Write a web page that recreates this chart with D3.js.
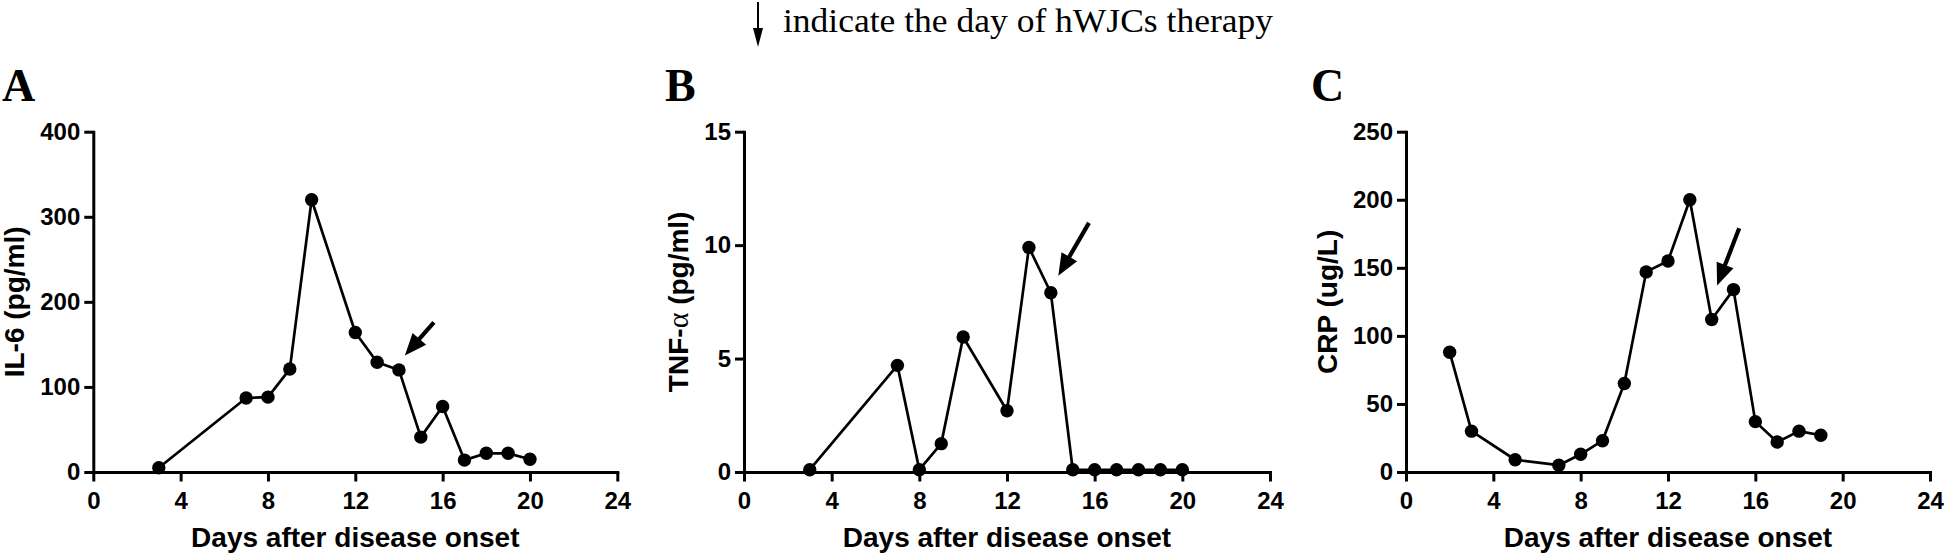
<!DOCTYPE html>
<html><head><meta charset="utf-8">
<script src="https://cdn.jsdelivr.net/npm/d3@7"></script>
<style>body{margin:0;background:#fff} svg{display:block}</style>
</head><body>
<svg id="c" width="1946" height="554"></svg>
<script>
// ---- data ----
const xTicks = [0, 4, 8, 12, 16, 20, 24];

const il6Days   = [3, 7, 8, 9, 10, 12, 13, 14, 15, 16, 17, 18, 19, 20];
const il6Values = [5, 87, 88, 121, 320, 164, 129, 120, 41, 77, 14, 22, 22, 15];
const il6Ticks  = [0, 100, 200, 300, 400];

const tnfDays   = [3, 7, 8, 9, 10, 12, 13, 14, 15, 16, 17, 18, 19, 20];
const tnfValues = [0.1, 4.7, 0.1, 1.25, 5.95, 2.7, 9.9, 7.9, 0.1, 0.1, 0.1, 0.1, 0.1, 0.1];
const tnfTicks  = [0, 5, 10, 15];

const crpDays   = [2, 3, 5, 7, 8, 9, 10, 11, 12, 13, 14, 15, 16, 17, 18, 19];
const crpValues = [88, 30, 9, 5, 13, 23, 65, 147, 155, 200, 112, 134, 37, 22, 30, 27];
const crpTicks  = [0, 50, 100, 150, 200, 250];

// therapy-day arrows (data coords: tail -> tip)
const arrowA = [[15.6, 176], [14.27, 137]];
const arrowB = [[15.74, 10.98], [14.34, 8.65]];
const arrowC = [[15.26, 179], [14.25, 137]];

const headerText = "indicate the day of hWJCs therapy";
const xTitle = "Days after disease onset";

// ---- layout ----
const svg = d3.select("#c");
const plotTop = 131.7, plotBottom = 472;
const sans = "'Liberation Sans', Arial, sans-serif";
const serif = "'Liberation Serif', 'Times New Roman', serif";

const panels = [
  {label: "A", labelX: 2, left: 93.3, right: 617.3, days: il6Days, values: il6Values,
   yMax: 400, yTicks: il6Ticks, title: [["IL-6 (pg/ml)", sans, "bold"]], titleOff: 69, arrow: arrowA},
  {label: "B", labelX: 665, left: 744, right: 1270, days: tnfDays, values: tnfValues,
   yMax: 15, yTicks: tnfTicks, title: [["TNF-", sans, "bold"], ["\u03b1", serif, "normal"], [" (pg/ml)", sans, "bold"]], titleOff: 56, arrow: arrowB},
  {label: "C", labelX: 1311, left: 1406, right: 1930, days: crpDays, values: crpValues,
   yMax: 250, yTicks: crpTicks, title: [["CRP (ug/L)", sans, "bold"]], titleOff: 69, arrow: arrowC}
];

panels.forEach(p => {
  const x = d3.scaleLinear().domain([0, 24]).range([p.left, p.right]);
  const y = d3.scaleLinear().domain([0, p.yMax]).range([plotBottom, plotTop]);
  const g = svg.append("g");

  // axes
  const xa = g.append("g").attr("transform", `translate(0,${plotBottom})`)
    .call(d3.axisBottom(x).tickValues(xTicks).tickSize(9.5).tickSizeOuter(0).tickPadding(10).tickFormat(d3.format("d")));
  const ya = g.append("g").attr("transform", `translate(${p.left},0)`)
    .call(d3.axisLeft(y).tickValues(p.yTicks).tickSize(9).tickSizeOuter(0).tickPadding(4).tickFormat(d3.format("d")));
  [xa, ya].forEach(a => {
    a.select(".domain").attr("stroke", "#000").attr("stroke-width", 3).attr("stroke-linecap", "square");
    a.selectAll(".tick line").attr("stroke", "#000").attr("stroke-width", 3);
    a.selectAll(".tick text").attr("fill", "#000").style("font-family", sans)
      .style("font-weight", "bold").style("font-size", "24px");
  });

  // x title
  g.append("text").attr("x", (p.left + p.right) / 2).attr("y", 546.5)
    .attr("text-anchor", "middle").style("font-family", sans).style("font-weight", "bold")
    .style("font-size", "28px").attr("fill", "#000").text(xTitle);

  // y title
  const yt = g.append("text")
    .attr("transform", `translate(${p.left - p.titleOff},${(plotTop + plotBottom) / 2}) rotate(-90)`)
    .attr("text-anchor", "middle").style("font-size", "28px").attr("fill", "#000");
  p.title.forEach(([t, f, w]) => yt.append("tspan").style("font-family", f).style("font-weight", w)
    .style("font-size", f === serif ? "30px" : "28px").text(t));

  // panel label
  g.append("text").attr("x", p.labelX).attr("y", 101).style("font-family", serif)
    .style("font-weight", "bold").style("font-size", "46px").attr("fill", "#000").text(p.label);

  // data line + markers
  const pts = p.days.map((d, i) => [d, p.values[i]]);
  g.append("path").datum(pts)
    .attr("d", d3.line().x(d => x(d[0])).y(d => y(d[1])))
    .attr("fill", "none").attr("stroke", "#000").attr("stroke-width", 2.7).attr("stroke-linejoin", "round");
  g.selectAll("circle.pt").data(pts).join("circle").attr("class", "pt")
    .attr("cx", d => x(d[0])).attr("cy", d => y(d[1])).attr("r", 6.7).attr("fill", "#000");

  // therapy arrow
  const [t0, t1] = p.arrow;
  const x0 = x(t0[0]), y0 = y(t0[1]), x1 = x(t1[0]), y1 = y(t1[1]);
  const dx = x1 - x0, dy = y1 - y0, L = Math.hypot(dx, dy), ux = dx / L, uy = dy / L;
  const hl = 22, hw = 9;
  const bx = x1 - ux * hl, by = y1 - uy * hl;
  g.append("line").attr("x1", x0).attr("y1", y0).attr("x2", bx + ux * 2).attr("y2", by + uy * 2)
    .attr("stroke", "#000").attr("stroke-width", 4.2);
  g.append("path").attr("d", `M${x1},${y1}L${bx - uy * hw},${by + ux * hw}L${bx + uy * hw},${by - ux * hw}Z`)
    .attr("fill", "#000");
});

// header annotation
svg.append("line").attr("x1", 758).attr("y1", 2).attr("x2", 758).attr("y2", 32)
  .attr("stroke", "#000").attr("stroke-width", 2);
svg.append("path").attr("d", "M758,47L753,28L763,28Z").attr("fill", "#000");
svg.append("text").attr("x", 783).attr("y", 31.5).style("font-family", serif)
  .style("font-size", "34px").attr("fill", "#000")
  .attr("textLength", 490).attr("lengthAdjust", "spacingAndGlyphs").text(headerText);
</script>
</body></html>
